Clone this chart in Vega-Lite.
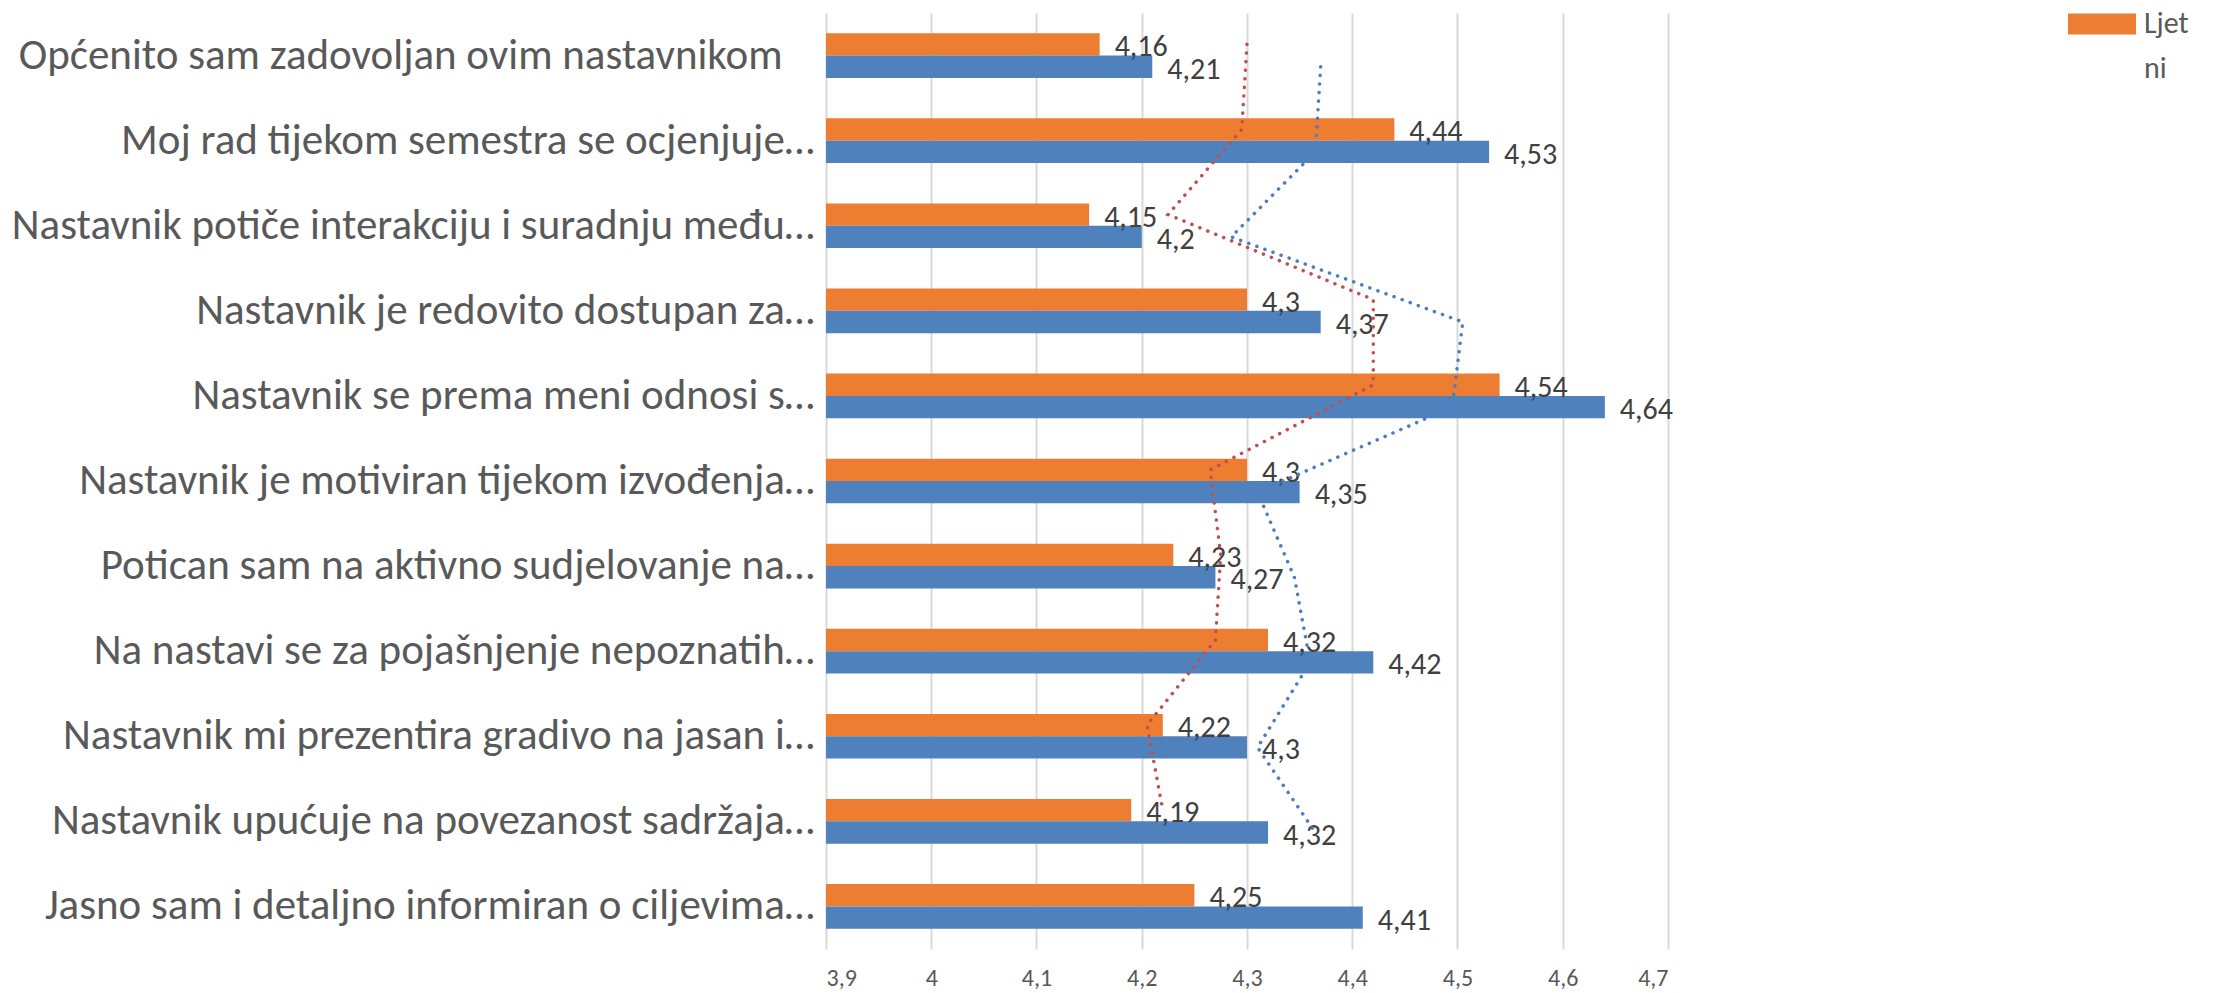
{
  "$schema": "https://vega.github.io/schema/vega-lite/v6.json",
  "autosize": {"type": "none"},
  "padding": {"left": 826, "top": 13, "right": 559, "bottom": 44},
  "width": 842,
  "height": 936,
  "background": "white",
  "config": {
    "font": "Carlito, 'Open Sans', sans-serif",
    "view": {"stroke": null},
    "locale": {"number": {"decimal": ",", "thousands": ".", "grouping": [3], "currency": ["", " €"]}},
    "style": {"guide-label": {"lineHeight": 45}}
  },
  "datasets": {
    "bars": [
      {"cat": "Općenito sam zadovoljan ovim nastavnikom\u2800", "series": "Ljetni", "value": 4.16},
      {"cat": "Općenito sam zadovoljan ovim nastavnikom\u2800", "series": "Zimski", "value": 4.21},
      {"cat": "Moj rad tijekom semestra se ocjenjuje…", "series": "Ljetni", "value": 4.44},
      {"cat": "Moj rad tijekom semestra se ocjenjuje…", "series": "Zimski", "value": 4.53},
      {"cat": "Nastavnik potiče interakciju i suradnju među…", "series": "Ljetni", "value": 4.15},
      {"cat": "Nastavnik potiče interakciju i suradnju među…", "series": "Zimski", "value": 4.2},
      {"cat": "Nastavnik je redovito dostupan za…", "series": "Ljetni", "value": 4.3},
      {"cat": "Nastavnik je redovito dostupan za…", "series": "Zimski", "value": 4.37},
      {"cat": "Nastavnik se prema meni odnosi s…", "series": "Ljetni", "value": 4.54},
      {"cat": "Nastavnik se prema meni odnosi s…", "series": "Zimski", "value": 4.64},
      {"cat": "Nastavnik je motiviran tijekom izvođenja…", "series": "Ljetni", "value": 4.3},
      {"cat": "Nastavnik je motiviran tijekom izvođenja…", "series": "Zimski", "value": 4.35},
      {"cat": "Potican sam na aktivno sudjelovanje na…", "series": "Ljetni", "value": 4.23},
      {"cat": "Potican sam na aktivno sudjelovanje na…", "series": "Zimski", "value": 4.27},
      {"cat": "Na nastavi se za pojašnjenje nepoznatih…", "series": "Ljetni", "value": 4.32},
      {"cat": "Na nastavi se za pojašnjenje nepoznatih…", "series": "Zimski", "value": 4.42},
      {"cat": "Nastavnik mi prezentira gradivo na jasan i…", "series": "Ljetni", "value": 4.22},
      {"cat": "Nastavnik mi prezentira gradivo na jasan i…", "series": "Zimski", "value": 4.3},
      {"cat": "Nastavnik upućuje na povezanost sadržaja…", "series": "Ljetni", "value": 4.19},
      {"cat": "Nastavnik upućuje na povezanost sadržaja…", "series": "Zimski", "value": 4.32},
      {"cat": "Jasno sam i detaljno informiran o ciljevima…", "series": "Ljetni", "value": 4.25},
      {"cat": "Jasno sam i detaljno informiran o ciljevima…", "series": "Zimski", "value": 4.41}
    ],
    "trend": [
      {"cat": "Općenito sam zadovoljan ovim nastavnikom\u2800", "series": "Ljetni", "ma": 4.3, "idx": 0},
      {"cat": "Moj rad tijekom semestra se ocjenjuje…", "series": "Ljetni", "ma": 4.295, "idx": 1},
      {"cat": "Nastavnik potiče interakciju i suradnju među…", "series": "Ljetni", "ma": 4.225, "idx": 2},
      {"cat": "Nastavnik je redovito dostupan za…", "series": "Ljetni", "ma": 4.42, "idx": 3},
      {"cat": "Nastavnik se prema meni odnosi s…", "series": "Ljetni", "ma": 4.42, "idx": 4},
      {"cat": "Nastavnik je motiviran tijekom izvođenja…", "series": "Ljetni", "ma": 4.265, "idx": 5},
      {"cat": "Potican sam na aktivno sudjelovanje na…", "series": "Ljetni", "ma": 4.275, "idx": 6},
      {"cat": "Na nastavi se za pojašnjenje nepoznatih…", "series": "Ljetni", "ma": 4.27, "idx": 7},
      {"cat": "Nastavnik mi prezentira gradivo na jasan i…", "series": "Ljetni", "ma": 4.205, "idx": 8},
      {"cat": "Nastavnik upućuje na povezanost sadržaja…", "series": "Ljetni", "ma": 4.22, "idx": 9},
      {"cat": "Općenito sam zadovoljan ovim nastavnikom\u2800", "series": "Zimski", "ma": 4.37, "idx": 0},
      {"cat": "Moj rad tijekom semestra se ocjenjuje…", "series": "Zimski", "ma": 4.365, "idx": 1},
      {"cat": "Nastavnik potiče interakciju i suradnju među…", "series": "Zimski", "ma": 4.285, "idx": 2},
      {"cat": "Nastavnik je redovito dostupan za…", "series": "Zimski", "ma": 4.505, "idx": 3},
      {"cat": "Nastavnik se prema meni odnosi s…", "series": "Zimski", "ma": 4.495, "idx": 4},
      {"cat": "Nastavnik je motiviran tijekom izvođenja…", "series": "Zimski", "ma": 4.31, "idx": 5},
      {"cat": "Potican sam na aktivno sudjelovanje na…", "series": "Zimski", "ma": 4.345, "idx": 6},
      {"cat": "Na nastavi se za pojašnjenje nepoznatih…", "series": "Zimski", "ma": 4.36, "idx": 7},
      {"cat": "Nastavnik mi prezentira gradivo na jasan i…", "series": "Zimski", "ma": 4.31, "idx": 8},
      {"cat": "Nastavnik upućuje na povezanost sadržaja…", "series": "Zimski", "ma": 4.365, "idx": 9}
    ]
  },
  "encoding": {
    "y": {
      "field": "cat", "type": "nominal", "sort": null,
      "scale": {"paddingInner": 0.475, "paddingOuter": 0.2375},
      "axis": {"title": null, "domain": false, "ticks": false, "labelFontSize": 43, "labelColor": "#595959", "labelPadding": 12, "labelLimit": 0}
    },
    "yOffset": {"field": "series", "type": "nominal", "sort": ["Ljetni", "Zimski"]}
  },
  "layer": [
    {
      "data": {"name": "bars"},
      "mark": {"type": "bar"},
      "encoding": {
        "x": {
          "field": "value", "type": "quantitative",
          "scale": {"domain": [3.9, 4.7], "zero": false, "nice": false},
          "axis": {"title": null, "values": [3.9, 4, 4.1, 4.2, 4.3, 4.4, 4.5, 4.6, 4.7], "format": ".1~f", "domain": false, "ticks": false, "grid": true, "gridColor": "#d9d9d9", "gridWidth": 2, "labelFontSize": 24, "labelColor": "#595959", "labelPadding": 17}
        },
        "x2": {"datum": 3.9},
        "color": {
          "field": "series", "type": "nominal",
          "scale": {"domain": ["Ljetni", "Zimski"], "range": ["#ED7D31", "#4F81BD"]},
          "legend": {
            "values": ["Ljetni"], "title": null, "orient": "none", "legendX": 1242, "legendY": -23,
            "symbolType": "M-1,-0.31H1V0.31H-1Z", "symbolSize": 4624, "symbolStrokeWidth": 0,
            "labelExpr": "['Ljet', 'ni']", "labelFontSize": 30, "labelColor": "#595959", "labelBaseline": "middle", "labelOffset": 8
          }
        }
      }
    },
    {
      "data": {"name": "bars"},
      "mark": {"type": "text", "align": "left", "baseline": "middle", "dx": 15, "dy": 3, "fontSize": 30, "color": "#404040"},
      "encoding": {
        "x": {"field": "value", "type": "quantitative"},
        "text": {"field": "value", "type": "quantitative", "format": ".2~f"}
      }
    },
    {
      "data": {"name": "trend"},
      "transform": [{"filter": "datum.series === 'Ljetni'"}],
      "mark": {"type": "line", "color": "#C0504D", "strokeWidth": 3.5, "strokeDash": [0.1, 8.5], "strokeCap": "round"},
      "encoding": {
        "x": {"field": "ma", "type": "quantitative"},
        "order": {"field": "idx", "type": "quantitative"}
      }
    },
    {
      "data": {"name": "trend"},
      "transform": [{"filter": "datum.series === 'Zimski'"}],
      "mark": {"type": "line", "color": "#4A7EC1", "strokeWidth": 3.5, "strokeDash": [0.1, 8.5], "strokeCap": "round"},
      "encoding": {
        "x": {"field": "ma", "type": "quantitative"},
        "order": {"field": "idx", "type": "quantitative"}
      }
    }
  ]
}
